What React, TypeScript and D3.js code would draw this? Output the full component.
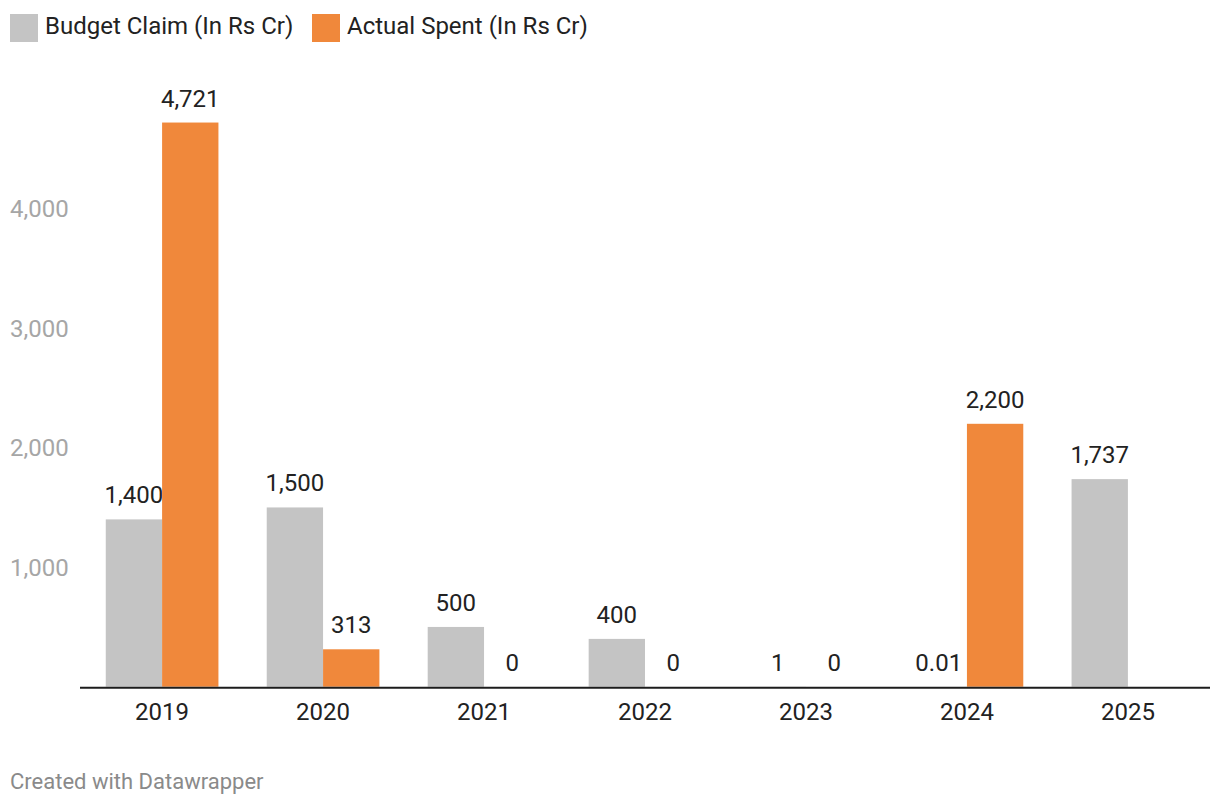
import React from "react";
import * as d3 from "d3";

const years = ["2019", "2020", "2021", "2022", "2023", "2024", "2025"];
const budgetClaim: (number | null)[] = [1400, 1500, 500, 400, 1, 0.01, 1737];
const actualSpent: (number | null)[] = [4721, 313, 0, 0, 0, 2200, null];
const seriesNames = ["Budget Claim (In Rs Cr)", "Actual Spent (In Rs Cr)"];
const seriesColors = ["#c4c4c4", "#f0883b"];
const yTicks = [1000, 2000, 3000, 4000];

const W = 1220;
const H = 808;
const FONT = "Roboto, 'Noto Sans', sans-serif";

export default function App() {
  const x0 = d3.scaleBand<string>().domain(years).range([80, 1210]).paddingInner(0.3).paddingOuter(0.16);
  const x1 = d3.scaleBand<string>().domain(["b", "a"]).range([0, x0.bandwidth()]);
  const y = d3.scaleLinear().domain([0, 5000]).range([686.7, 89.2]);
  const fmt = d3.format(",");
  const series = [budgetClaim, actualSpent];
  const keys = ["b", "a"];

  return (
    <svg width={W} height={H} style={{ position: "absolute", left: 0, top: 0, background: "#fff" }} fontFamily={FONT}>
      {/* legend */}
      {seriesNames.map((name, i) => {
        const lx = i === 0 ? 10 : 312;
        return (
          <g key={name}>
            <rect x={lx} y={14} width={28} height={28} fill={seriesColors[i]} />
            <text x={lx + 35} y={34} fontSize={24} fill="#222">{name}</text>
          </g>
        );
      })}

      {/* y tick labels */}
      {yTicks.map((t) => (
        <text key={t} x={10} y={y(t) + 8.5} fontSize={24} fill="#a6a6a6">{fmt(t)}</text>
      ))}

      {/* bars */}
      {years.map((yr, i) => (
        <g key={yr} transform={`translate(${x0(yr)},0)`}>
          {series.map((s, j) => {
            const v = s[i];
            if (v === null || v === undefined) return null;
            const bx = x1(keys[j])!;
            return (
              <g key={j}>
                {v > 0 && (
                  <rect x={bx} y={y(v)} width={x1.bandwidth()} height={y(0) - y(v)} fill={seriesColors[j]} />
                )}
                <text x={bx + x1.bandwidth() / 2} y={y(v) - 16} fontSize={24} fill="#222" textAnchor="middle">{fmt(v)}</text>
              </g>
            );
          })}
        </g>
      ))}

      {/* baseline */}
      <line x1={80} x2={1210} y1={687.7} y2={687.7} stroke="#1d1d1d" strokeWidth={2} />

      {/* x tick labels */}
      {years.map((yr) => (
        <text key={yr} x={x0(yr)! + x0.bandwidth() / 2} y={719.5} fontSize={24} fill="#222" textAnchor="middle">{yr}</text>
      ))}

      {/* footer */}
      <text x={10} y={789} fontSize={22} fill="#8a8a8a">Created with Datawrapper</text>
    </svg>
  );
}
